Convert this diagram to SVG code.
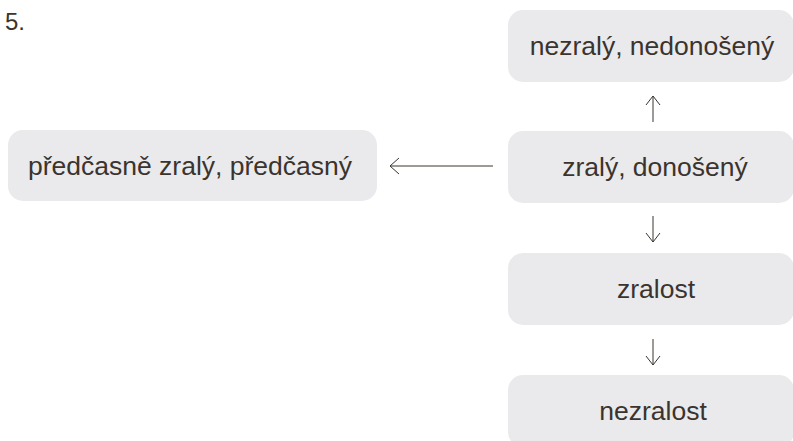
<svg xmlns="http://www.w3.org/2000/svg" width="793" height="441" viewBox="0 0 793 441">
<style>
.box{fill:#eaeaec}
.t{font-family:"Liberation Sans",Arial,sans-serif;font-size:26.5px;fill:#3b342e;text-anchor:middle}
.c{stroke:#3b342e;stroke-width:1;fill:none}
</style>
<rect width="793" height="441" fill="#ffffff"/>
<text x="5" y="30" style="font-family:'Liberation Sans',Arial,sans-serif;font-size:24px;fill:#3b342e">5.</text>
<g id="n1"><rect class="box" x="508" y="10" width="286" height="72" rx="15"/><text class="t" x="652" y="55">nezralý, nedonošený</text></g>
<g id="n2"><rect class="box" x="508" y="131" width="286" height="72" rx="15"/><text class="t" x="655" y="176">zralý, donošený</text></g>
<g id="n3"><rect class="box" x="508" y="253" width="286" height="72" rx="15"/><text class="t" x="656" y="298">zralost</text></g>
<g id="n4"><rect class="box" x="508" y="375" width="286" height="72" rx="15"/><text class="t" x="653" y="420">nezralost</text></g>
<g id="n5"><rect class="box" x="8" y="130" width="369" height="71" rx="15"/><text class="t" x="190" y="175">předčasně zralý, předčasný</text></g>
<g id="connectors">
<path class="c" d="M493 166H390M399 158L390 166L399 174"/>
<path class="c" d="M653 122V96M646 105L653 96L660 105"/>
<path class="c" d="M653 216V242M646 233L653 242L660 233"/>
<path class="c" d="M653 339V365M646 356L653 365L660 356"/>
</g>
</svg>
